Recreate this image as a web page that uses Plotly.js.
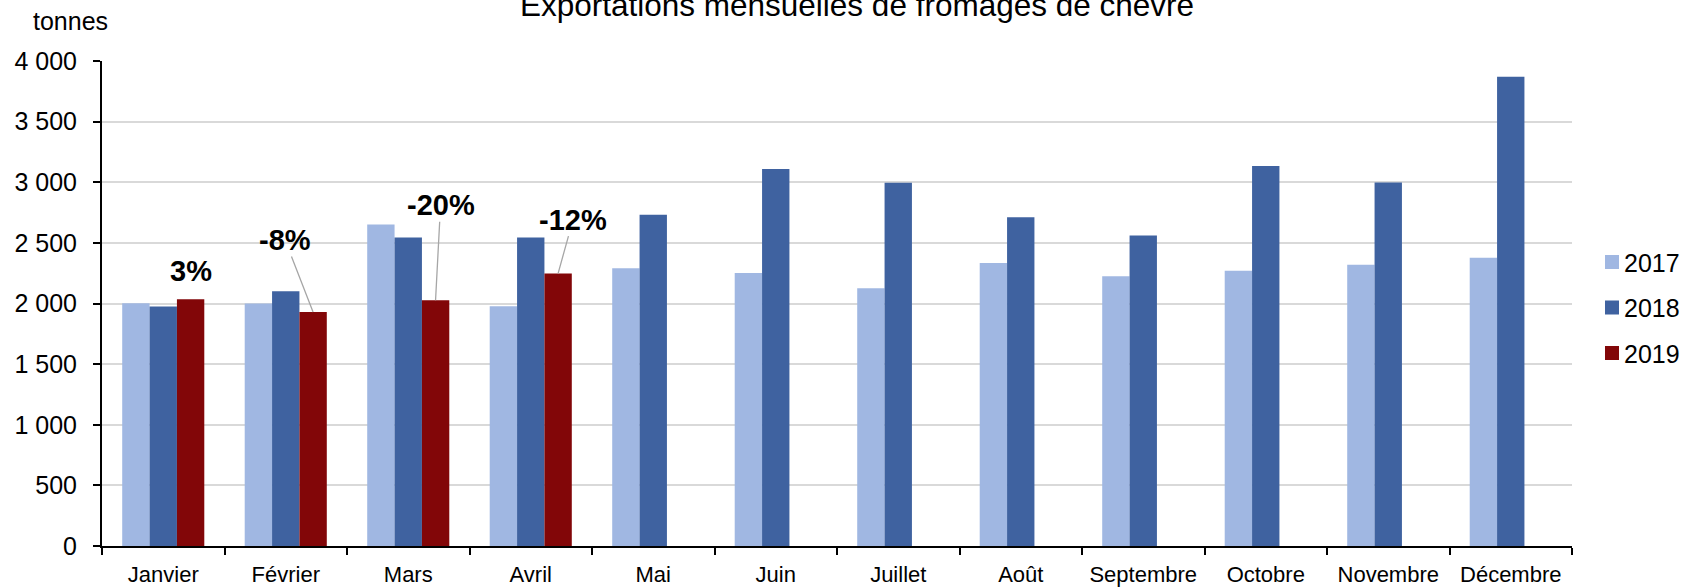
<!DOCTYPE html>
<html>
<head>
<meta charset="utf-8">
<script src="https://cdn.plot.ly/plotly-3.0.1.min.js"></script>
<style>
html,body{margin:0;padding:0;background:#fff;}
#chart{width:1685px;height:587px;}
</style>
</head>
<body>
<div id="chart"></div>
<script>
const months = ["Janvier","Février","Mars","Avril","Mai","Juin","Juillet","Août","Septembre","Octobre","Novembre","Décembre"];
const y2017 = [2003, 2000, 2651, 1978, 2291, 2251, 2125, 2335, 2224, 2270, 2319, 2378];
const y2018 = [1975, 2101, 2544, 2544, 2732, 3109, 2995, 2711, 2560, 3133, 2998, 3870];
const y2019 = [2036, 1929, 2027, 2247, null, null, null, null, null, null, null, null];
const changeLabels = ["3%", "-8%", "-20%", "-12%"];
const seriesNames = ["2017", "2018", "2019"];
const seriesColors = ["#a0b7e2", "#3f62a0", "#820608"];

const FONT = "'Liberation Sans', Arial, sans-serif";

const traces = [y2017, y2018, y2019].map((vals, i) => ({
  type: "bar",
  name: seriesNames[i],
  x: months,
  y: vals,
  marker: {color: seriesColors[i], line: {width: 0}},
  legendgroup: seriesNames[i],
  hoverinfo: "x+y+name"
}));

const barShift = 27.3;
const labelOffsets = [
  null,
  {ax: -28, ay: -72},
  {ax: 5, ay: -95},
  {ax: 15, ay: -54}
];

const annotations = [];
changeLabels.forEach((t, i) => {
  if (i === 0) {
    annotations.push({
      x: months[i], y: y2019[i], xref: "x", yref: "y",
      xshift: barShift, yshift: 10,
      yanchor: "bottom", xanchor: "center",
      text: "<b>" + t + "</b>", showarrow: false,
      font: {family: FONT, size: 29, color: "#000"}
    });
  } else {
    annotations.push({
      x: months[i], y: y2019[i], xref: "x", yref: "y",
      xshift: barShift,
      text: "<b>" + t + "</b>", showarrow: true,
      arrowhead: 0, arrowwidth: 1.3, arrowcolor: "#a6a6a6",
      ax: labelOffsets[i].ax, ay: labelOffsets[i].ay,
      standoff: 0, borderpad: 0,
      font: {family: FONT, size: 29, color: "#000"}
    });
  }
});

annotations.push({
  text: "tonnes", xref: "paper", yref: "paper",
  x: (70 - 101.7) / 1470.3, y: (546.3 - 21) / 485.3,
  xanchor: "center", yanchor: "middle", showarrow: false,
  font: {family: FONT, size: 25, color: "#000"}
});

const layout = {
  width: 1685, height: 587,
  paper_bgcolor: "#fff", plot_bgcolor: "#fff",
  separators: ", ",
  barmode: "group",
  bargap: 0.33, bargroupgap: 0,
  margin: {l: 102, r: 113, t: 61, b: 41, pad: 0, autoexpand: false},
  font: {family: FONT, size: 23, color: "#000"},
  title: {
    text: "Exportations mensuelles de fromages de chèvre",
    font: {family: FONT, size: 31.5, color: "#000"},
    xref: "container", yref: "container",
    x: 857 / 1685, xanchor: "center",
    y: 1 - 5 / 587, yanchor: "middle"
  },
  xaxis: {
    type: "category",
    showline: true, linecolor: "#000", linewidth: 2,
    ticks: "outside", tickson: "boundaries", ticklen: 7, tickwidth: 2, tickcolor: "#000",
    tickangle: 0,
    ticklabelstandoff: 8,
    showgrid: false, zeroline: false,
    tickfont: {family: FONT, size: 22, color: "#000"},
    automargin: false
  },
  yaxis: {
    range: [0, 4000], dtick: 500, tick0: 0,
    tickformat: ",d",
    showline: true, linecolor: "#000", linewidth: 2,
    ticks: "outside", ticklen: 7, tickwidth: 2, tickcolor: "#000",
    showgrid: true, gridcolor: "#d9d9d9", gridwidth: 2,
    zeroline: false,
    ticklabelstandoff: 11,
    tickfont: {family: FONT, size: 25, color: "#000"},
    automargin: false
  },
  legend: {
    x: 1 + (1584 - 1572) / 1470.3, xanchor: "left",
    y: (546.3 - 308) / 485.3, yanchor: "middle",
    traceorder: "grouped", tracegroupgap: 10,
    itemwidth: 30,
    font: {family: FONT, size: 25, color: "#000"},
    bgcolor: "rgba(0,0,0,0)"
  },
  annotations: annotations,
  showlegend: true
};

Plotly.newPlot("chart", traces, layout, {displayModeBar: false, staticPlot: true}).then(gd => {
  // bring legend swatches closer to their labels, with a slightly larger square
  gd.querySelectorAll("g.legend g.traces").forEach(tr => {
    const txt = tr.querySelector("text.legendtext");
    const pts = tr.querySelector("g.legendpoints");
    if (!txt || !pts) return;
    pts.querySelectorAll("path").forEach(p => p.setAttribute("d", "M7,7H-7V-7H7Z"));
    const tb = txt.getBoundingClientRect();
    const pb = pts.getBoundingClientRect();
    const dx = (tb.left - 12) - (pb.left + pb.right) / 2;
    const prev = pts.getAttribute("transform") || "";
    pts.setAttribute("transform", "translate(" + dx + ",0) " + prev);
  });
});
</script>
</body>
</html>
